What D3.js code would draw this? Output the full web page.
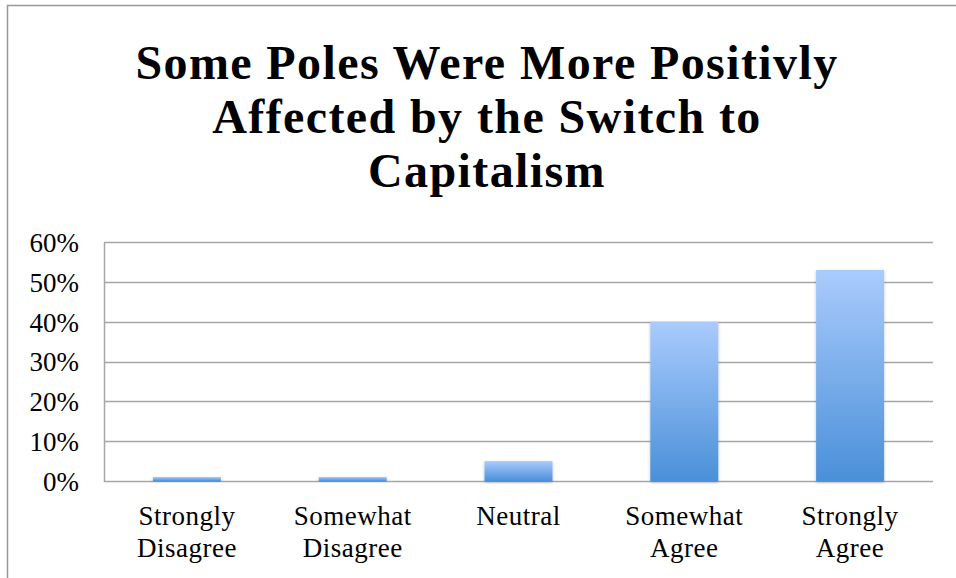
<!DOCTYPE html>
<html>
<head>
<meta charset="utf-8">
<script src="https://cdn.jsdelivr.net/npm/d3@7/dist/d3.min.js"></script>
<style>
  html, body { margin: 0; padding: 0; background: #fff; }
  svg { display: block; }
</style>
</head>
<body>
<svg id="chart" width="956" height="578"></svg>
<script>
// Survey responses (share of respondents)
const categories = [
  ["Strongly", "Disagree"],
  ["Somewhat", "Disagree"],
  ["Neutral"],
  ["Somewhat", "Agree"],
  ["Strongly", "Agree"]
];
const values = [0.01, 0.01, 0.05, 0.40, 0.53];
const tickValues = [0, 0.1, 0.2, 0.3, 0.4, 0.5, 0.6];
const titleLines = ["Some Poles Were More Positivly", "Affected by the Switch to", "Capitalism"];

const W = 956, H = 578;
const plot = { left: 104, right: 933, top: 242, bottom: 481 };
const serif = "'Liberation Serif', 'DejaVu Serif', serif";

const svg = d3.select("#chart");

// gradient fill for the bars
const defs = svg.append("defs");
const grad = defs.append("linearGradient")
  .attr("id", "barGrad").attr("x1", 0).attr("y1", 0).attr("x2", 0).attr("y2", 1);
grad.append("stop").attr("offset", "0%").attr("stop-color", "#aacbfd");
grad.append("stop").attr("offset", "100%").attr("stop-color", "#4a90d8");
const shadow = defs.append("filter").attr("id", "barShadow")
  .attr("x", "-20%").attr("y", "-20%").attr("width", "140%").attr("height", "140%");
shadow.append("feDropShadow").attr("dx", 0).attr("dy", 1.5).attr("stdDeviation", 1.5)
  .attr("flood-color", "#000").attr("flood-opacity", 0.25);

// chart frame
svg.append("path")
  .attr("d", `M7.5,${H} V5.5 H${W}`)
  .attr("fill", "none").attr("stroke", "#999").attr("stroke-width", 1.5);

// title
const title = svg.append("text")
  .attr("text-anchor", "middle")
  .attr("font-family", serif)
  .attr("font-weight", "bold")
  .attr("font-size", 48)
  .attr("letter-spacing", 1.4)
  .attr("fill", "#000");
titleLines.forEach((t, i) => {
  title.append("tspan").attr("x", 487).attr("y", 79 + i * 54).text(t);
});

const x = d3.scaleBand()
  .domain(d3.range(categories.length))
  .range([plot.left, plot.right])
  .paddingInner(0.59).paddingOuter(0.295);

const y = d3.scaleLinear().domain([0, 0.6]).range([plot.bottom, plot.top]);

// gridlines
svg.append("g")
  .selectAll("line").data(tickValues).join("line")
  .attr("x1", plot.left).attr("x2", plot.right)
  .attr("y1", d => Math.round(y(d)) + 0.5).attr("y2", d => Math.round(y(d)) + 0.5)
  .attr("stroke", "#a6a6a6").attr("stroke-width", 1.5);

// left axis line
svg.append("line")
  .attr("x1", plot.left + 0.5).attr("x2", plot.left + 0.5)
  .attr("y1", plot.top).attr("y2", plot.bottom + 1)
  .attr("stroke", "#a6a6a6").attr("stroke-width", 1.5);

// y axis labels
const yAxis = d3.axisLeft(y).tickValues(tickValues).tickFormat(d3.format(".0%")).tickSize(0).tickPadding(25);
const yg = svg.append("g").attr("transform", `translate(${plot.left},0)`).call(yAxis);
yg.select(".domain").remove();
yg.selectAll("text")
  .attr("font-family", serif)
  .attr("font-size", 27).attr("fill", "#000")
  .attr("dy", "0.35em");

// bars
svg.append("g")
  .selectAll("rect").data(values).join("rect")
  .attr("x", (d, i) => x(i))
  .attr("width", x.bandwidth())
  .attr("y", d => y(d))
  .attr("height", d => plot.bottom - y(d))
  .attr("fill", "url(#barGrad)")
  .attr("filter", "url(#barShadow)");

// category labels
const xl = svg.append("g")
  .selectAll("text").data(categories).join("text")
  .attr("text-anchor", "middle")
  .attr("font-family", serif)
  .attr("font-size", 27).attr("letter-spacing", 0.5).attr("fill", "#000");
xl.each(function(lines, i) {
  const t = d3.select(this);
  lines.forEach((l, j) => {
    t.append("tspan").attr("x", x(i) + x.bandwidth() / 2).attr("y", 525 + j * 32).text(l);
  });
});
</script>
</body>
</html>
